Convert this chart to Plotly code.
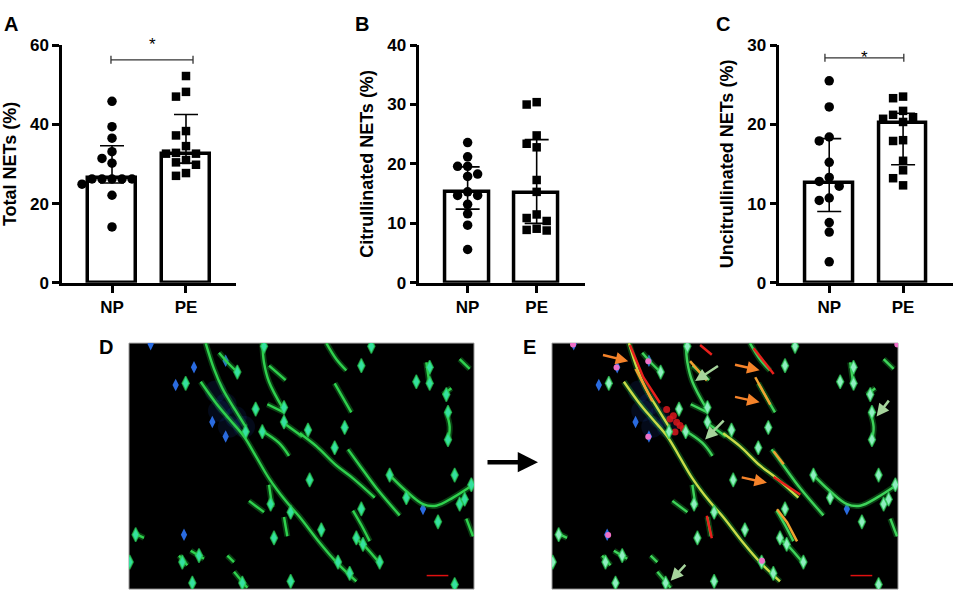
import plotly.graph_objects as go

# ---------- bar chart data ----------
groups = ["NP", "PE"]

total_np = [45.8, 39.4, 36.5, 33.1, 31.4, 30.2, 26.2, 26.2, 26.2, 26.2, 26.2, 24.9, 22.1, 14.1]
total_pe = [52.2, 48.2, 47.0, 38.3, 37.2, 34.5, 32.8, 32.6, 32.6, 31.0, 30.4, 29.8, 27.7, 27.0]
total_med = [26.4, 32.6]
total_q1 = [25.2, 30.2]
total_q3 = [34.6, 42.5]

cit_np = [23.6, 21.2, 19.6, 19.6, 18.3, 17.9, 15.3, 14.7, 14.7, 13.2, 11.6, 9.7, 5.6]
cit_pe = [30.4, 30.0, 24.8, 23.4, 22.8, 17.3, 15.3, 11.5, 10.9, 10.4, 9.1, 8.9, 8.8]
cit_med = [15.3, 15.05]
cit_q1 = [12.4, 10.0]
cit_q3 = [19.5, 24.1]

uncit_np = [25.5, 22.2, 18.4, 17.9, 15.2, 13.3, 12.8, 12.2, 10.7, 10.4, 7.6, 6.4, 2.65]
uncit_pe = [23.5, 23.3, 21.7, 21.2, 20.9, 20.7, 20.3, 18.0, 17.9, 15.4, 14.2, 13.2, 12.3]
uncit_med = [12.55, 20.1]
uncit_q1 = [9.0, 14.9]
uncit_q3 = [18.2, 21.4]

# ---------- micrograph features (image pixel coords, 0..1035 x 0..764) ----------
fibers = [
    [(215, 120), (260, 185), (300, 235), (345, 290), (380, 350), (420, 420), (470, 490), (512, 540),
     (572, 620), (622, 680), (682, 740)],
    [(230, 0), (255, 80), (280, 140), (320, 210), (350, 260)],
    [(270, 30), (300, 65), (325, 90)],
    [(400, 0), (405, 60), (420, 120), (460, 200)],
    [(420, 70), (470, 115)],
    [(415, 190), (465, 215)],
    [(395, 270), (450, 310), (480, 350)],
    [(460, 245), (520, 290)],
    [(420, 440), (430, 510)],
    [(360, 490), (405, 525)],
    [(465, 540), (475, 600)],
    [(592, 0), (622, 50), (652, 85)],
    [(617, 125), (642, 170), (667, 215)],
    [(512, 280), (562, 320), (622, 380), (672, 420), (737, 480)],
    [(657, 330), (692, 380), (742, 450), (812, 535)],
    [(782, 410), (832, 460), (882, 500), (922, 505), (972, 480), (1032, 440)],
    [(952, 215), (962, 260), (957, 305)],
    [(892, 60), (902, 130)],
    [(942, 160), (967, 140)],
    [(672, 520), (697, 565), (722, 615)],
    [(677, 605), (702, 625), (757, 690)],
    [(1012, 545), (1032, 600)],
    [(992, 50), (1022, 80)],
    [(150, 660), (175, 690)],
    [(185, 645), (225, 670)],
    [(315, 710), (355, 760)],
    [(15, 590), (45, 605)],
    [(295, 660), (315, 680)],
]
cells_u = [405, 325, 170, 380, 465, 400, 350, 465, 485, 425, 435, 20, 2, 210, 160, 340, 190, 485,
           697, 727, 537, 647, 617, 542, 782, 832, 697, 577, 682, 702, 927, 977, 957, 992, 1007,
           1027, 862, 902, 902, 952, 957, 752, 627, 662, 977]
cells_v = [10, 90, 125, 205, 245, 275, 275, 200, 525, 500, 605, 595, 680, 660, 680, 745, 745, 740,
           70, 10, 270, 262, 325, 425, 410, 480, 515, 580, 605, 625, 555, 410, 300, 500, 485,
           440, 120, 125, 75, 160, 215, 680, 680, 715, 750]
blue_u = [65, 195, 290, 140, 250, 290, 165, 627, 882]
blue_v = [3, 75, 55, 130, 245, 290, 595, 680, 515]
haze_u = [260, 290, 320, 345, 300, 270]
haze_v = [150, 190, 230, 260, 260, 210]

# red / orange staining only in the merged image
red_segs = [
    [(233, 6), (273, 106), (323, 186)],
    [(443, 6), (478, 36)],
    [(603, 16), (663, 96)],
    [(663, 416), (743, 471)],
    [(463, 536), (478, 606)],
]
orange_segs = [
    [(608, 106), (653, 191)],
    [(663, 336), (693, 376)],
    [(673, 516), (703, 556), (733, 616)],
    [(413, 56), (463, 116)],
    [(250, 80), (300, 180)],
]
red_blob_u = [343, 363, 373, 383, 353, 393, 368]
red_blob_v = [206, 226, 246, 256, 236, 266, 276]
pink_u = [193, 288, 288, 168, 628, 63, 1033]
pink_v = [76, 56, 291, 596, 676, 4, 4]

orange_arrows = [((148, 36), (228, 56)), ((543, 66), (621, 84)),
                 ((543, 166), (621, 184)), ((563, 416), (643, 434))]
green_arrows = [((501, 68), (428, 118)), ((518, 236), (458, 299)),
                ((1011, 174), (971, 228)), ((403, 684), (355, 738))]

FONT = "Arial, Liberation Sans, sans-serif"
W, H = 955, 602


def swarm(vals, px_x, px_y, d=10):
    # simple beeswarm: place points one by one, nearest free horizontal slot
    order = sorted(range(len(vals)), key=lambda i: -vals[i])
    placed = []
    offs = [0.0] * len(vals)
    for i in order:
        cands = [0]
        for k in range(1, 8):
            cands += [-k * d, k * d]
        for c in cands:
            ok = True
            for (px, py) in placed:
                dy = (vals[i] - py) * px_y
                if (c - px) ** 2 + dy ** 2 < (d * 0.97) ** 2:
                    ok = False
                    break
            if ok:
                break
        placed.append((c, vals[i]))
        offs[i] = c / px_x
    return offs


fig = go.Figure()

panels = [
    dict(ax="", np_=total_np, pe=total_pe, med=total_med, q1=total_q1, q3=total_q3,
         px_x=74, px_y=4.09, ymax=60, dtick=20, xr=0.676, dom=[62, 236], title="Total NETs (%)"),
    dict(ax="2", np_=cit_np, pe=cit_pe, med=cit_med, q1=cit_q1, q3=cit_q3,
         px_x=69, px_y=6.135, ymax=40, dtick=10, xr=0.70, dom=[419.3, 585], title="Citrullinated NETs (%)"),
    dict(ax="3", np_=uncit_np, pe=uncit_pe, med=uncit_med, q1=uncit_q1, q3=uncit_q3,
         px_x=74, px_y=8.18, ymax=30, dtick=10, xr=0.676, dom=[779.3, 953], title="Uncitrullinated NETs (%)"),
]

ydom = [1 - 282.7 / H, 1 - 37.3 / H]
for p in panels:
    xa, ya = "x" + p["ax"], "y" + p["ax"]
    fig.add_trace(go.Bar(x=[0, 1], y=p["med"], width=0.64, marker=dict(color="white", line=dict(color="black", width=3.5)),
                         xaxis=xa, yaxis=ya, showlegend=False))
    for k, (vals, sym) in enumerate([(p["np_"], "circle"), (p["pe"], "square")]):
        offs = swarm(vals, p["px_x"], p["px_y"])
        fig.add_trace(go.Scatter(x=[k + o for o in offs], y=vals, mode="markers",
                                 marker=dict(symbol=sym, size=9.5 if sym == "circle" else 8.5, color="black"),
                                 xaxis=xa, yaxis=ya, showlegend=False, cliponaxis=False))
    fig.add_trace(go.Scatter(x=[0, 1], y=p["med"], mode="markers", marker=dict(size=1, color="rgba(0,0,0,0)"),
                             error_y=dict(type="data", symmetric=False,
                                          array=[q - m for q, m in zip(p["q3"], p["med"])],
                                          arrayminus=[m - q for q, m in zip(p["q1"], p["med"])],
                                          color="black", thickness=1.6, width=12),
                             xaxis=xa, yaxis=ya, showlegend=False, hoverinfo="skip"))
    yticks = list(range(0, p["ymax"] + 1, p["dtick"]))
    axis_common = dict(showline=True, linecolor="black", linewidth=2.5, ticks="outside", ticklen=7,
                       tickwidth=2.5, tickcolor="black", showgrid=False, zeroline=False,
                       tickfont=dict(family=FONT, size=17, color="black"))
    fig.update_layout(**{
        "xaxis" + p["ax"]: dict(domain=[p["dom"][0] / W, p["dom"][1] / W], range=[-p["xr"], 1 + p["xr"]],
                                tickvals=[0, 1], ticktext=["<b>%s</b>" % g for g in groups], anchor=ya, **axis_common),
        "yaxis" + p["ax"]: dict(domain=ydom, range=[0, p["ymax"]], tickvals=yticks,
                                ticktext=["<b>%d</b>" % t for t in yticks], anchor=xa,
                                title=dict(text="<b>%s</b>" % p["title"], font=dict(family=FONT, size=18, color="black"),
                                           standoff=9),
                                **axis_common),
    })

# significance brackets for A and C (star placed in page units so it is never hidden)
for xa, ya, x0, x1, yb, tick, star_py in [("x", "y", -0.014, 1.095, 56.3, 1.0, 37),
                                          ("x3", "y3", -0.058, 1.01, 28.4, 0.5, 50)]:
    fig.add_shape(type="line", xref=xa, yref=ya, x0=x0, x1=x1, y0=yb, y1=yb, line=dict(color="#333", width=1.3))
    for xx in [x0, x1]:
        fig.add_shape(type="line", xref=xa, yref=ya, x0=xx, x1=xx, y0=yb - tick, y1=yb + tick,
                      line=dict(color="#333", width=1.3))
    fig.add_annotation(x=(x0 + x1) / 2, y=1 - star_py / H, xref=xa, yref="paper", text="*", showarrow=False,
                       yanchor="middle", font=dict(family=FONT, size=17, color="black"))

# ---------- micrographs D and E ----------
img_dom = {"4": [129, 474], "5": [552, 898]}
for ax, dom in img_dom.items():
    fig.update_layout(**{
        "xaxis" + ax: dict(domain=[dom[0] / W, dom[1] / W], range=[0, 1035], visible=False, anchor="y" + ax),
        "yaxis" + ax: dict(domain=[1 - 599 / H, 1 - 345 / H], range=[764, 0], visible=False, anchor="x" + ax),
    })
    fig.add_shape(type="rect", xref="x%s domain" % ax, yref="y%s domain" % ax, x0=0, x1=1, y0=0, y1=1,
                  fillcolor="black", line=dict(color="#9a9a9a", width=1), layer="below")
    xa, ya = "x" + ax, "y" + ax
    merged = ax == "5"
    fig.add_trace(go.Scatter(x=haze_u, y=haze_v, mode="markers", xaxis=xa, yaxis=ya, showlegend=False,
                             marker=dict(size=22, color="rgba(30,70,170,0.15)", line=dict(width=0)), hoverinfo="skip"))
    fig.add_trace(go.Scatter(x=blue_u, y=blue_v, mode="markers", xaxis=xa, yaxis=ya, showlegend=False,
                             marker=dict(symbol="diamond-tall", size=9, color="#2a6be0", line=dict(width=0)),
                             hoverinfo="skip"))
    for n, seg in enumerate(fibers):
        us = [s[0] for s in seg]
        vs = [s[1] for s in seg]
        core = "#2fd14e"
        if merged:
            core = "#c8dc48" if n in (0, 1, 13) else "#3ed35a"
        fig.add_trace(go.Scatter(x=us, y=vs, mode="lines", xaxis=xa, yaxis=ya, showlegend=False, hoverinfo="skip",
                                 line=dict(color="rgba(30,180,55,0.35)", width=6, shape="spline")))
        fig.add_trace(go.Scatter(x=us, y=vs, mode="lines", xaxis=xa, yaxis=ya, showlegend=False, hoverinfo="skip",
                                 line=dict(color=core, width=2.4, shape="spline")))
    if merged:
        for seg in red_segs:
            fig.add_trace(go.Scatter(x=[s[0] for s in seg], y=[s[1] for s in seg], mode="lines", xaxis=xa, yaxis=ya,
                                     showlegend=False, hoverinfo="skip", line=dict(color="#e8201c", width=2.5)))
        for seg in orange_segs:
            fig.add_trace(go.Scatter(x=[s[0] for s in seg], y=[s[1] for s in seg], mode="lines", xaxis=xa, yaxis=ya,
                                     showlegend=False, hoverinfo="skip", line=dict(color="#f0a030", width=2.5)))
        fig.add_trace(go.Scatter(x=red_blob_u, y=red_blob_v, mode="markers", xaxis=xa, yaxis=ya, showlegend=False,
                                 hoverinfo="skip", marker=dict(size=7, color="#d8181c", opacity=0.85)))
    fig.add_trace(go.Scatter(x=cells_u, y=cells_v, mode="markers", xaxis=xa, yaxis=ya, showlegend=False,
                             hoverinfo="skip",
                             marker=dict(symbol="diamond-tall", size=10,
                                         color="#35e0a0" if not merged else "#8eeec0",
                                         line=dict(color="rgba(40,200,80,0.7)", width=1.5))))
    if merged:
        fig.add_trace(go.Scatter(x=pink_u, y=pink_v, mode="markers", xaxis=xa, yaxis=ya, showlegend=False,
                                 hoverinfo="skip", marker=dict(size=6, color="#ee70c8")))
        for arrows, col in [(orange_arrows, "#f5832a"), (green_arrows, "#a6d49c")]:
            for tail, head in arrows:
                fig.add_annotation(x=head[0], y=head[1], ax=tail[0], ay=tail[1], xref=xa, yref=ya,
                                   axref=xa, ayref=ya, showarrow=True, arrowhead=2, arrowsize=1,
                                   arrowwidth=2.5, arrowcolor=col, text="")
    # scale bar
    fig.add_shape(type="line", xref=xa, yref=ya, x0=893, x1=958, y0=722, y1=722, line=dict(color="#e01010", width=1.5))

# panel letters
for txt, px, py in [("A", 11, 15), ("B", 362, 15), ("C", 723, 15), ("D", 106, 349), ("E", 529, 349)]:
    fig.add_annotation(x=px / W, y=1 - py / H, xref="paper", yref="paper", text="<b>%s</b>" % txt, showarrow=False,
                       xanchor="center", yanchor="middle", font=dict(family=FONT, size=20, color="black"))

# black arrow between D and E
fig.add_annotation(x=538 / W, y=1 - 468 / H, xref="paper", yref="paper", ax=-52, ay=0, showarrow=True,
                   arrowhead=2, arrowsize=0.9, arrowwidth=4.5, arrowcolor="black", text="")

fig.update_layout(width=W, height=H, margin=dict(l=0, r=0, t=0, b=0), plot_bgcolor="white",
                  paper_bgcolor="white", bargap=0, font=dict(family=FONT, color="black"))

fig.write_html("out.html", config={"displayModeBar": False},
               post_script="document.body.style.margin='0px';")
